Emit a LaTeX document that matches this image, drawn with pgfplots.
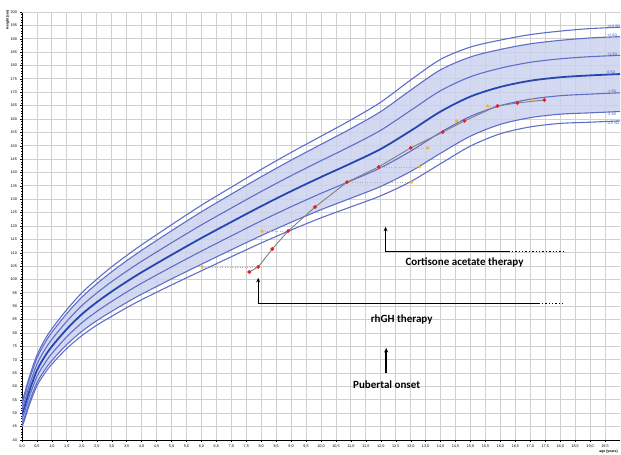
\documentclass[border=0pt]{standalone}
\usepackage{pgfplots}
\usepackage{pgfplotstable}
\pgfplotsset{compat=1.18}
\usepgfplotslibrary{fillbetween}
\usetikzlibrary{arrows.meta}
\usepackage{fontspec}
\setmainfont{Liberation Sans}
\newfontfamily\annfont{Carlito}
\definecolor{curve}{RGB}{95,110,200}
\definecolor{meanc}{RGB}{40,70,175}
\definecolor{band}{RGB}{200,208,238}
\definecolor{gridc}{RGB}{208,208,208}
\definecolor{ptred}{RGB}{232,30,40}
\definecolor{ptyel}{RGB}{247,182,20}
\definecolor{lblc}{RGB}{60,80,180}

\pgfplotstableread{
age  m25    m2    m1    z0    p1    p2    p25
0    44.75  45.7  47.6  49.5  51.4  53.3  54.25
0.1  48.0   49.0  51.0  53.0  55.0  57.0  58.0
0.25 53.25  54.3  56.4  58.5  60.6  62.7  63.75
0.5  60.25  61.4  63.7  66.0  68.3  70.6  71.75
0.75 64.75  66.0  68.5  71.0  73.5  76.0  77.25
1    68.4   69.7  72.35 75.0  77.65 80.3  81.6
1.5  74.25  75.7  78.6  81.5  84.4  87.3  88.75
2    79.0   80.6  83.8  87.0  90.2  93.4  95.0
2.5  82.9   84.6  88.05 91.5  94.95 98.4  100.1
3    86.25  88.1  91.8  95.5  99.2  102.9 104.75
3.5  89.45  91.4  95.3  99.2  103.1 107.0 108.95
4    92.45  94.5  98.6  102.7 106.8 110.9 112.95
5    97.95  100.2 104.7 109.2 113.7 118.2 120.45
6    103.25 105.7 110.6 115.5 120.4 125.3 127.75
7    108.5  111.1 116.3 121.5 126.7 131.9 134.5
8    113.65 116.4 121.9 127.4 132.9 138.4 141.15
9    118.5  121.4 127.2 133.0 138.8 144.6 147.5
10   123.05 126.1 132.2 138.3 144.4 150.5 153.55
11   127.15 130.4 136.9 143.4 149.9 156.4 159.65
12   131.3  134.8 141.8 148.8 155.8 162.8 166.3
13   136.6  140.4 148.0 155.6 163.2 170.8 174.6
14   143.3  147.2 155.0 162.8 170.6 178.4 182.3
15   149.9  153.6 161.0 168.4 175.8 183.2 186.9
16   154.5  158.0 165.0 172.0 179.0 186.0 189.5
17   157.05 160.5 167.4 174.3 181.2 188.1 191.55
18   158.35 161.8 168.7 175.6 182.5 189.4 192.85
19   158.8  162.3 169.3 176.3 183.3 190.3 193.8
20   159.3  162.8 169.8 176.8 183.8 190.8 194.3
}\refcurves

\pgfplotstableread{
age   h
7.60  102.8
7.90  104.7
8.37  111.4
8.90  118.1
9.80  127.1
10.87 136.4
11.93 142.1
13.00 149.2
14.07 155.1
14.80 159.3
15.90 164.9
16.57 166.0
17.47 167.1
}\patient

\pgfplotstableread{
age   h
6.03  104.7
8.03  118.1
13.03 136.4
13.30 142.1
13.57 149.2
14.53 159.3
15.57 164.9
17.07 167.1
}\boneage

\begin{document}
\begin{tikzpicture}
\begin{axis}[
  at={(22pt,15pt)}, anchor=south west,
  scale only axis, width=598pt, height=428pt,
  xmin=0, xmax=20, ymin=40, ymax=200,
  xtick={0,0.5,...,19.5}, ytick={40,45,...,200},
  minor x tick num=4, minor y tick num=4,
  grid=major, major grid style={gridc, line width=0.9pt},
  axis x line*=bottom, axis y line*=left,
  axis line style={black, line width=0.6pt},
  tick align=outside, major tick length=2pt, minor tick length=1pt,
  tick style={black, line width=0.4pt},
  tick label style={font=\fontsize{3.8}{4}\selectfont},
  /pgf/number format/assume math mode=true,
  xticklabel style={/pgf/number format/.cd, fixed, fixed zerofill, precision=1, use comma},
  yticklabel style={/pgf/number format/.cd, fixed, precision=0},
  xticklabel shift=-0.5pt, yticklabel shift=-0.5pt,
  clip=true,
]
\draw[gridc, line width=0.9pt] (rel axis cs:0,1) -- (rel axis cs:1,1) -- (rel axis cs:1,0);

\addplot[draw=none, name path=up, smooth] table[x=age, y=p2] {\refcurves};
\addplot[draw=none, name path=lo, smooth] table[x=age, y=m2] {\refcurves};
\addplot[band, fill opacity=0.8, draw=none] fill between[of=up and lo];

\addplot[curve, line width=1.1pt, smooth] table[x=age, y=m25] {\refcurves};
\addplot[curve, line width=1.1pt, smooth] table[x=age, y=m2] {\refcurves};
\addplot[curve, line width=1.1pt, smooth] table[x=age, y=m1] {\refcurves};
\addplot[meanc, line width=1.8pt, smooth] table[x=age, y=z0] {\refcurves};
\addplot[curve, line width=1.1pt, smooth] table[x=age, y=p1] {\refcurves};
\addplot[curve, line width=1.1pt, smooth] table[x=age, y=p2] {\refcurves};
\addplot[curve, line width=1.1pt, smooth] table[x=age, y=p25] {\refcurves};

% bone age connectors
\addplot[gray!60, dotted, line width=0.5pt] coordinates {(6.03,104.7) (7.90,104.7)};
\addplot[gray!60, dotted, line width=0.5pt] coordinates {(8.03,118.1) (8.90,118.1)};
\addplot[gray!60, dotted, line width=0.5pt] coordinates {(10.87,136.4) (13.03,136.4)};
\addplot[gray!60, dotted, line width=0.5pt] coordinates {(11.93,142.1) (13.30,142.1)};
\addplot[gray!60, dotted, line width=0.5pt] coordinates {(13.00,149.2) (13.57,149.2)};
\addplot[gray!60, dotted, line width=0.5pt] coordinates {(14.53,159.3) (14.80,159.3)};
\addplot[gray!60, dotted, line width=0.5pt] coordinates {(15.57,164.9) (15.90,164.9)};
\addplot[gray!60, dotted, line width=0.5pt] coordinates {(17.07,167.1) (17.47,167.1)};

\addplot[gray, line width=0.9pt, mark=*, mark size=1.4pt, mark options={ptred, draw=ptred}] table[x=age, y=h] {\patient};
\addplot[only marks, mark=*, mark size=1.4pt, mark options={ptyel, draw=ptyel}] table[x=age, y=h] {\boneage};

% SD labels
\begin{scope}[font=\fontsize{3.5}{4}\selectfont, text=lblc]
\node[anchor=south west, inner sep=0.5pt] at (axis cs:19.55,194.0) {+2.5 SD};
\node[anchor=south west, inner sep=0.5pt] at (axis cs:19.55,190.5) {+2 SD};
\node[anchor=south west, inner sep=0.5pt] at (axis cs:19.55,183.6) {+1 SD};
\node[anchor=south west, inner sep=0.5pt] at (axis cs:19.55,176.6) {0 SD};
\node[anchor=south west, inner sep=0.5pt] at (axis cs:19.55,169.6) {-1 SD};
\node[anchor=south west, inner sep=0.5pt] at (axis cs:19.55,161.0) {-2 SD};
\node[anchor=north west, inner sep=0.5pt] at (axis cs:19.55,159.0) {-2.5 SD};
\end{scope}

% annotations
\draw[black, line width=1.4pt, -{Stealth[length=4.5pt,width=4pt]}] (axis cs:16.27,110.4) -- (axis cs:12.16,110.4) -- (axis cs:12.16,119.7);
\draw[black, line width=1.4pt, dotted] (axis cs:16.27,110.4) -- (axis cs:18.1,110.4);
\node[font=\annfont\bfseries\fontsize{11}{13}\selectfont, anchor=base west, inner sep=0pt] at (axis cs:12.82,105.4) {Cortisone acetate therapy};

\draw[black, line width=1.4pt, -{Stealth[length=4.5pt,width=4pt]}] (axis cs:17.27,91.1) -- (axis cs:7.9,91.1) -- (axis cs:7.9,100.6);
\draw[black, line width=1.4pt, dotted] (axis cs:17.27,91.1) -- (axis cs:18.1,91.1);
\node[font=\annfont\bfseries\fontsize{11}{13}\selectfont, anchor=base west, inner sep=0pt] at (axis cs:11.66,84.1) {rhGH therapy};

\draw[black, line width=1.4pt, -{Stealth[length=4.5pt,width=4pt]}] (axis cs:12.18,65.0) -- (axis cs:12.18,74.4);
\node[font=\annfont\bfseries\fontsize{11}{13}\selectfont, anchor=base west, inner sep=0pt] at (axis cs:11.07,59.4) {Pubertal onset};
\end{axis}
\node[rotate=90, anchor=north east, font=\bfseries\fontsize{3.5}{4}\selectfont, inner sep=0pt] at (6pt,445pt) {Height (cm)};
\node[anchor=south east, font=\bfseries\fontsize{3.5}{4}\selectfont, inner sep=0pt] at (618pt,1.5pt) {age (years)};
\path (0,0) rectangle (621pt,455pt);
\end{tikzpicture}
\end{document}
